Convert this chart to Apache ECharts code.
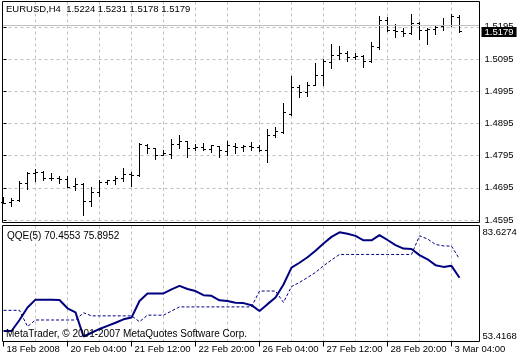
<!DOCTYPE html>
<html><head><meta charset="utf-8">
<script src="https://cdn.jsdelivr.net/npm/echarts@6/dist/echarts.min.js"></script>
<style>html,body{margin:0;padding:0;background:#fff}#c{width:520px;height:360px}</style>
</head><body><div id="c"></div>
<script>
const symbolName = 'EURUSD,H4';
const opens = [1.4649,1.4649,1.4655,1.4707,1.4739,1.4742,1.4724,1.4724,1.4722,1.4698,
 1.4706,1.4653,1.4680,1.4712,1.4718,1.4723,1.4737,1.4732,1.4826,1.4816,
 1.4795,1.4799,1.4830,1.4838,1.4818,1.4821,1.4815,1.4822,1.4807,1.4823,
 1.4821,1.4823,1.4821,1.4810,1.4856,1.4866,1.4924,1.5007,1.4992,1.5014,
 1.5045,1.5085,1.5107,1.5113,1.5100,1.5102,1.5087,1.5131,1.5216,1.5185,
 1.5180,1.5175,1.5204,1.5183,1.5186,1.5196,1.5198,1.5224];
const highs = [1.4664,1.4661,1.4714,1.4742,1.4752,1.4745,1.4739,1.4729,1.4729,1.4724,
 1.4709,1.4697,1.4719,1.4719,1.4729,1.4756,1.4742,1.4833,1.4828,1.4818,
 1.4812,1.4846,1.4858,1.4838,1.4828,1.4833,1.4827,1.4824,1.4840,1.4833,
 1.4827,1.4836,1.4827,1.4875,1.4883,1.4957,1.5042,1.5014,1.5021,1.5082,
 1.5092,1.5139,1.5133,1.5118,1.5113,1.5107,1.5146,1.5226,1.5224,1.5202,
 1.5189,1.5234,1.5209,1.5190,1.5196,1.5221,1.5232,1.5231];
const lows = [1.4645,1.4638,1.4654,1.4690,1.4714,1.4719,1.4719,1.4707,1.4697,1.4688,
 1.4608,1.4638,1.4667,1.4706,1.4704,1.4714,1.4698,1.4730,1.4802,1.4784,
 1.4794,1.4785,1.4818,1.4789,1.4810,1.4812,1.4804,1.4789,1.4794,1.4800,
 1.4807,1.4812,1.4807,1.4773,1.4852,1.4864,1.4921,1.4976,1.4978,1.5013,
 1.5012,1.5066,1.5092,1.5087,1.5092,1.5069,1.5083,1.5123,1.5180,1.5162,
 1.5166,1.5172,1.5156,1.5141,1.5172,1.5183,1.5195,1.5178];
const closes = [1.4647,1.4655,1.4707,1.4739,1.4742,1.4723,1.4723,1.4721,1.4697,1.4704,
 1.4653,1.4680,1.4712,1.4719,1.4723,1.4737,1.4734,1.4828,1.4818,1.4795,
 1.4801,1.4830,1.4840,1.4818,1.4820,1.4815,1.4825,1.4810,1.4825,1.4821,
 1.4824,1.4821,1.4810,1.4856,1.4871,1.4928,1.5007,1.4992,1.5014,1.5045,
 1.5087,1.5107,1.5113,1.5099,1.5102,1.5087,1.5133,1.5216,1.5185,1.5180,
 1.5175,1.5204,1.5183,1.5186,1.5194,1.5198,1.5226,1.5179];
const qqeMain = [55.0,55.0,58.2,61.8,64.1,64.1,64.1,64.0,61.6,60.4,
 53.4168,54.5,55.6,56.5,57.4,58.4,58.9,63.7,65.9,65.9,
 65.9,67.1,68.1,67.2,66.6,65.4,65.2,63.9,63.7,63.2,
 63.1,62.5,60.8,62.8,64.7,68.5,73.4,74.8,76.4,78.3,
 80.4,82.3,83.6274,83.2,82.6,81.3,81.3,82.8,81.4,79.9,
 78.9,78.8,77.0,75.8,74.1,73.6,73.9,70.4553];
const qqeSignal = [61.0,61.0,61.0,56.3,58.2,58.2,58.2,58.2,58.2,58.2,
 60.3,59.4,59.4,59.4,59.4,59.4,59.4,57.7,59.6,59.6,
 59.6,60.8,62.0,62.0,62.0,62.0,62.0,62.0,62.0,62.0,
 62.0,62.0,66.6,66.6,66.6,63.3,67.9,69.1,70.5,72.0,
 73.9,75.6,77.2,77.2,77.2,77.2,77.2,77.2,77.2,77.2,
 77.2,77.2,82.6,81.7,80.1,79.7,79.6,75.8952];
const priceTicks = [1.4595,1.4695,1.4795,1.4895,1.4995,1.5095,1.5195];
const qqeTicks = [53.4168,83.6274];
const timeLabels = ['18 Feb 2008','20 Feb 04:00','21 Feb 12:00','22 Feb 20:00','26 Feb 04:00','27 Feb 12:00','28 Feb 20:00','3 Mar 04:00'];
const labelBars = [0,8,16,24,32,40,48,56];
const gridBars = [4,8,12,16,20,24,28,32,36,40,44,48,52,56];

const N = closes.length;
const last = N - 1;
const font = "'Liberation Sans', Arial, sans-serif";
const grid = '#c0c0c0';
const ohlc = closes.map((c, i) => [i, opens[i], highs[i], lows[i], c]);
const idx = closes.map((c, i) => i);

const chart = echarts.init(document.getElementById('c'), null, {renderer: 'canvas'});
const xBase = {type: 'value', min: -0.125, max: 59.5, axisLine: {show: false}};
const dashed = {show: true, lineStyle: {color: grid, type: [3, 3], width: 1}};
const pMin = 1.458724, pMax = 1.527357;

chart.setOption({
  animation: false,
  backgroundColor: '#fff',
  grid: [
    {left: 2.5, top: 1.5, width: 477, height: 221},
    {left: 2.5, top: 225.5, width: 477, height: 116}
  ],
  xAxis: [
    Object.assign({}, xBase, {gridIndex: 0, axisTick: {show: false, customValues: gridBars}, axisLabel: {show: false}, splitLine: dashed}),
    Object.assign({}, xBase, {gridIndex: 1, axisTick: {show: false, customValues: gridBars}, axisLabel: {show: false}, splitLine: dashed}),
    Object.assign({}, xBase, {gridIndex: 1, position: 'bottom',
      axisTick: {show: true, length: 5, customValues: labelBars, lineStyle: {color: '#000'}},
      axisLabel: {show: true, customValues: labelBars, align: 'left', margin: 3, padding: [0, 0, 0, 3],
        color: '#000', fontFamily: font, fontSize: 9.5,
        formatter: v => timeLabels[labelBars.indexOf(Math.round(v))] || ''},
      splitLine: {show: false}})
  ],
  yAxis: [
    {type: 'value', gridIndex: 0, position: 'right', min: pMin, max: pMax,
      axisLine: {show: false},
      axisTick: {show: true, length: 3, customValues: priceTicks, lineStyle: {color: '#000'}},
      axisLabel: {show: true, customValues: priceTicks, margin: 5, color: '#000', fontFamily: font, fontSize: 9.5,
        formatter: v => v.toFixed(4)},
      splitLine: dashed},
    {type: 'value', gridIndex: 1, position: 'right', min: 51.966, max: 85.599,
      axisLine: {show: false},
      axisTick: {show: false, customValues: qqeTicks},
      axisLabel: {show: true, customValues: qqeTicks, margin: 3, color: '#000', fontFamily: font, fontSize: 9.5,
        formatter: v => v.toFixed(4)},
      splitLine: {show: false}},
    {type: 'value', gridIndex: 0, position: 'right', min: pMin, max: pMax, z: 5,
      axisLine: {show: false},
      axisTick: {show: false, customValues: [closes[last]]},
      axisLabel: {show: true, customValues: [closes[last]], margin: 2, color: '#fff', backgroundColor: '#000',
        fontFamily: font, fontSize: 9.5, lineHeight: 10, padding: [0, 3, 0, 3],
        formatter: v => v.toFixed(4)},
      splitLine: {show: false}}
  ],
  graphic: [
    {type: 'rect', shape: {x: 2.5, y: 1.5, width: 477, height: 221}, style: {fill: 'none', stroke: '#000', lineWidth: 1}, z: 100, silent: true},
    {type: 'rect', shape: {x: 2.5, y: 225.5, width: 477, height: 116}, style: {fill: 'none', stroke: '#000', lineWidth: 1}, z: 100, silent: true},
    {type: 'text', left: 6, top: 4, style: {text: symbolName + '  ' + [opens[last], highs[last], lows[last], closes[last]].map(v => v.toFixed(4)).join(' '),
      fill: '#000', font: '9.5px ' + font}, z: 101},
    {type: 'text', left: 7, top: 231, style: {text: 'QQE(5) ' + qqeMain[last].toFixed(4) + ' ' + qqeSignal[last].toFixed(4),
      fill: '#000', font: '10px ' + font}, z: 101},
    {type: 'text', left: 6, top: 329, style: {text: 'MetaTrader, \u00a9 2001-2007 MetaQuotes Software Corp.',
      fill: '#000', font: '10px ' + font}, z: 101}
  ],
  series: [
    {type: 'custom', xAxisIndex: 0, yAxisIndex: 0, data: ohlc, silent: true,
      renderItem: (params, api) => {
        const k = api.value(0);
        const o = api.coord([k, api.value(1)]);
        const h = api.coord([k, api.value(2)]);
        const l = api.coord([k, api.value(3)]);
        const c = api.coord([k, api.value(4)]);
        const col = Math.floor(o[0]);
        const x = col + 0.5;
        const ro = Math.floor(o[1]) + 0.5, rc = Math.floor(c[1]) + 0.5;
        const st = {stroke: '#000', lineWidth: 1};
        return {type: 'group', children: [
          {type: 'line', shape: {x1: x, y1: Math.floor(h[1]), x2: x, y2: Math.floor(l[1]) + 1}, style: st},
          {type: 'line', shape: {x1: col - 2, y1: ro, x2: col + 1, y2: ro}, style: st},
          {type: 'line', shape: {x1: col, y1: rc, x2: col + 3, y2: rc}, style: st}
        ]};
      },
      markLine: {silent: true, symbol: ['none', 'none'], animation: false,
        lineStyle: {color: grid, type: 'solid', width: 1},
        label: {show: false},
        data: [{yAxis: closes[last]}]}
    },
    {type: 'line', xAxisIndex: 1, yAxisIndex: 1, data: idx.map(i => [i, qqeSignal[i]]), symbol: 'none', silent: true,
      lineStyle: {color: '#000080', width: 1, type: [3, 2]}},
    {type: 'line', xAxisIndex: 1, yAxisIndex: 1, data: idx.map(i => [i, qqeMain[i]]), symbol: 'none', silent: true,
      lineStyle: {color: '#000080', width: 2}}
  ]
});
</script></body></html>
